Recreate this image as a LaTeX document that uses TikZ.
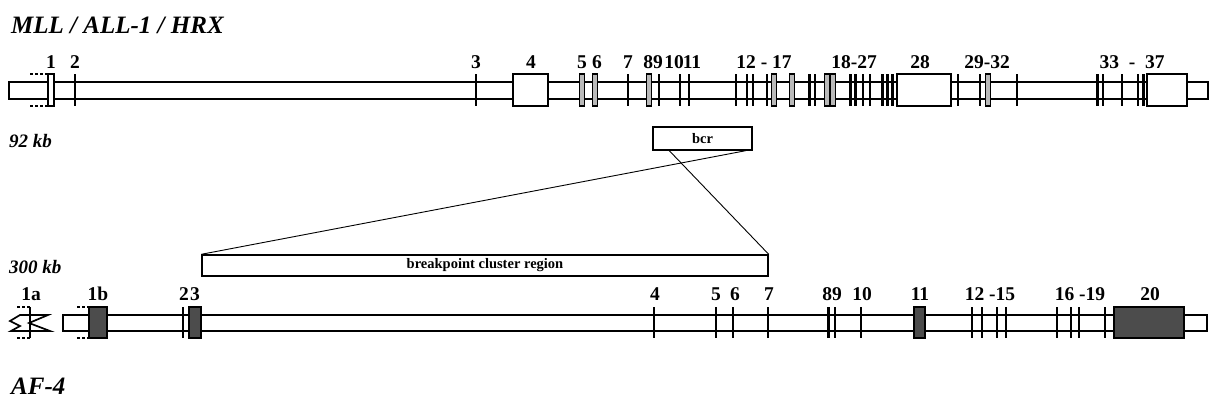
\documentclass[tikz,border=0pt]{standalone}
\usepackage{fontspec}
\setmainfont{Liberation Serif}
\begin{document}
\begin{tikzpicture}[x=1pt,y=-1pt,
  bar/.style={draw, line width=1.8pt, fill=white},
  exline/.style={line width=2.6pt},
  thinex/.style={draw, line width=1.2pt, fill=gray!55},
  whiteex/.style={draw, line width=1.9pt, fill=white},
  darkex/.style={draw, line width=2pt, fill=black!70},
  dotline/.style={line width=1.4pt, dash pattern=on 3pt off 2pt},
  lab/.style={font=\bfseries\fontsize{19.5}{22}\selectfont, anchor=base, inner sep=0pt},
  title/.style={font=\bfseries\itshape\fontsize{25}{28}\selectfont, anchor=base west, inner sep=0pt},
  size/.style={font=\bfseries\itshape\fontsize{19}{22}\selectfont, anchor=base west, inner sep=0pt},
  region/.style={draw, line width=1.4pt, fill=white, font=\bfseries\fontsize{14.5}{16}\selectfont, inner sep=0pt},
  conn/.style={line width=0.9pt}]
\useasboundingbox (0,0) rectangle (1211,410);

% titles
\node[title] (tMLL) at (11,33) {MLL / ALL-1 / HRX};
\node[title] (tAF) at (11,394) {AF-4};
\node[size] (s92) at (9,147) {92 kb};
\node[size] (s300) at (9,273) {300 kb};

% ---------- MLL gene ----------
\draw[bar] (9,82) rectangle (1208,99);
\draw[dotline] (30,74) -- (48,74);
\draw[dotline] (30,106) -- (48,106);
\draw[whiteex] (48,74) rectangle (54,106);
\foreach \x in {75,476,628,659,680,689,736,747,753,767,809.5,815,850.5,855.5,863,870,882.5,887.5,892.5,958,980,1017,1097.5,1103,1122,1138,1143.5}
  \draw[exline] (\x,74) -- (\x,106);
\foreach \x in {582,595,649,774,792,827,833,988}
  \draw[thinex] (\x-2.5,74) rectangle (\x+2.5,106);
\draw[whiteex] (513,74) rectangle (548,106);
\draw[whiteex] (897,74) rectangle (951,106);
\draw[whiteex] (1147,74) rectangle (1187,106);

\node[lab] (m1) at (51,68) {1};
\node[lab] (m2) at (75,68) {2};
\node[lab] (m3) at (476,68) {3};
\node[lab] (m4) at (531,68) {4};
\node[lab] (m5) at (582,68) {5};
\node[lab] (m6) at (597,68) {6};
\node[lab] (m7) at (628,68) {7};
\node[lab] (m89) at (653,68) {89};
\node[lab] (m10) at (674,68) {10};
\node[lab] (m11) at (692,68) {11};
\node[lab] (m12) at (764,68) {12 - 17};
\node[lab] (m18) at (854,68) {18-27};
\node[lab] (m28) at (920,68) {28};
\node[lab] (m29) at (987,68) {29-32};
\node[lab] (m33) at (1132,68) {33 \ - \ 37};

% ---------- regions ----------
\node[region, minimum width=99pt, minimum height=23pt] (bcr) at (702.5,138.5) {bcr};
\node[region, minimum width=566pt, minimum height=21pt] (bpc) at (485,265.5) {breakpoint cluster region};
\draw[conn] ([xshift=-7pt]bcr.south east) -- (bpc.north west);
\draw[conn] ([xshift=17pt]bcr.south west) -- (bpc.north east);

% ---------- AF-4 gene ----------
\draw[bar] (63,315) rectangle (1207,331);
% exon 1a broken symbol
\draw[line width=1.7pt, fill=white] (20,315) -- (48,315) -- (29,323) -- (50,331) -- (11,331) -- (20,326) -- (10,321) -- cycle;
\draw[line width=1.8pt] (30,307) -- (30,338);
\draw[dotline] (17,307) -- (30,307);
\draw[dotline] (17,338) -- (30,338);
% exon 1b
\draw[dotline] (77,307) -- (89,307);
\draw[dotline] (77,338) -- (89,338);
\foreach \x in {183,654,716,733,768,828.5,835,861,972,982,997,1006,1057,1071,1079,1105}
  \draw[exline] (\x,307) -- (\x,338);
\draw[darkex] (89,307) rectangle (107,338);
\draw[darkex] (189,307) rectangle (201,338);
\draw[darkex] (914,307) rectangle (925,338);
\draw[darkex] (1114,307) rectangle (1184,338);

\node[lab] (a1a) at (31,300) {1a};
\node[lab] (a1b) at (98,300) {1b};
\node[lab] (a2) at (184,300) {2};
\node[lab] (a3) at (195,300) {3};
\node[lab] (a4) at (655,300) {4};
\node[lab] (a5) at (716,300) {5};
\node[lab] (a6) at (735,300) {6};
\node[lab] (a7) at (769,300) {7};
\node[lab] (a89) at (832,300) {89};
\node[lab] (a10) at (862,300) {10};
\node[lab] (a11) at (920,300) {11};
\node[lab] (a12) at (990,300) {12 -15};
\node[lab] (a16) at (1080,300) {16 -19};
\node[lab] (a20) at (1150,300) {20};
\end{tikzpicture}
\end{document}
